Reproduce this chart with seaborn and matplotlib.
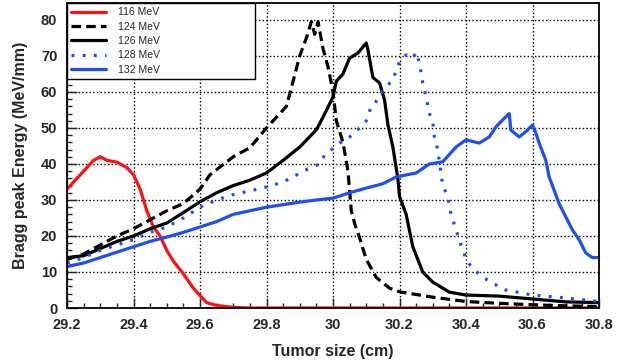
# %%
import numpy as np
import pandas as pd
import seaborn as sns
import matplotlib.pyplot as plt
from matplotlib.ticker import MultipleLocator

# %%
# Bragg peak energy vs tumor size
x_116 = [29.20, 29.22, 29.25, 29.28, 29.30, 29.32, 29.35, 29.38, 29.40, 29.42,
         29.44, 29.46, 29.48, 29.50, 29.52, 29.55, 29.58, 29.60, 29.62, 29.65,
         29.70, 29.75, 30.0, 30.4, 30.8]
y_116 = [33, 35, 38, 41, 42, 41, 40.5, 39, 37, 33,
         27, 22.5, 20, 16, 13, 9.5, 5.5, 3.5, 1.5, 0.7,
         0.2, 0, 0, 0, 0]

x_124 = [29.20, 29.25, 29.30, 29.35, 29.40, 29.45, 29.50, 29.55, 29.58, 29.60,
         29.63, 29.70, 29.75, 29.80, 29.83, 29.86, 29.88, 29.90, 29.92, 29.935,
         29.945, 29.955, 29.97, 29.985, 30.0, 30.01, 30.03, 30.045, 30.055, 30.065,
         30.08, 30.10, 30.13, 30.17, 30.20, 30.30, 30.40, 30.50, 30.60, 30.70, 30.80]
y_124 = [13.5, 15, 17.5, 20, 22, 24.5, 27, 29, 31.4, 33,
         37, 42, 44.5, 50, 53, 56, 63, 70, 75, 79.5,
         76, 79.5, 72, 67, 60, 52, 46, 38, 27, 23.5,
         19.5, 13.5, 8.5, 5.5, 4.5, 3, 1.8, 1.3, 0.9, 0.6, 0.4]

x_126 = [29.20, 29.25, 29.30, 29.35, 29.40, 29.45, 29.50, 29.55, 29.60, 29.65,
         29.70, 29.75, 29.80, 29.85, 29.90, 29.95, 29.97, 30.00, 30.01, 30.03,
         30.05, 30.075, 30.10, 30.105, 30.12, 30.14, 30.155, 30.165, 30.18, 30.195,
         30.20, 30.22, 30.24, 30.27, 30.30, 30.35, 30.40, 30.50, 30.60, 30.70, 30.80]
y_126 = [14, 14.5, 16.5, 18.5, 20, 22, 23.6, 26.5, 29.5, 32,
         34, 35.5, 37.5, 41, 44.7, 49.5, 53, 58.6, 63, 65,
         69.4, 70.8, 73.6, 71.7, 64, 62.5, 57.8, 51, 44.7, 36,
         31, 26, 17, 10, 7.2, 4.4, 3.6, 3.3, 2.5, 1.7, 1.5]

x_128 = [29.20, 29.25, 29.30, 29.35, 29.40, 29.45, 29.50, 29.55, 29.60, 29.65,
         29.70, 29.75, 29.80, 29.85, 29.88, 29.91, 29.96, 29.975, 30.02, 30.05,
         30.08, 30.10, 30.115, 30.13, 30.145, 30.16, 30.18, 30.19, 30.20, 30.22,
         30.24, 30.25, 30.26, 30.27, 30.28, 30.29, 30.30, 30.305, 30.315, 30.33,
         30.345, 30.355, 30.37, 30.39, 30.405, 30.42, 30.45, 30.48, 30.52, 30.60,
         30.70, 30.80]
y_128 = [12.5, 14, 16, 17.5, 19, 21, 22.5, 25, 28, 30,
         31.5, 32.5, 33.6, 35, 36.4, 38, 40, 42.5, 45.8, 47.5,
         50, 52, 56, 57.4, 59.7, 61.5, 63.3, 66, 68.3, 70.3,
         69.4, 71, 68, 62.5, 58.6, 54, 51.7, 47.5, 44, 34,
         31, 26, 21.7, 16, 12.8, 11, 8.6, 6.9, 5, 3.6,
         2.8, 1.8]

x_132 = [29.20, 29.25, 29.30, 29.35, 29.40, 29.45, 29.50, 29.55, 29.60, 29.65,
         29.70, 29.75, 29.80, 29.85, 29.90, 29.95, 30.00, 30.05, 30.10, 30.15,
         30.19, 30.25, 30.29, 30.33, 30.37, 30.40, 30.44, 30.47, 30.49, 30.51,
         30.53, 30.535, 30.56, 30.58, 30.60, 30.61, 30.62, 30.64, 30.65, 30.68,
         30.70, 30.72, 30.74, 30.76, 30.78, 30.80]
y_132 = [11.5, 12.5, 14, 15.5, 17, 18.5, 19.7, 21, 22.5, 24,
         26, 27, 28, 28.7, 29.4, 30, 30.5, 32, 33.3, 34.5,
         36.4, 37.5, 40, 40.6, 44.7, 46.7, 45.8, 47.5, 50.3, 52.2,
         54, 49.4, 47.5, 49, 50.8, 48.6, 45.8, 41, 36.4, 29,
         25.3, 21.7, 19, 15.3, 14, 14]

x_ticks = [29.2, 29.4, 29.6, 29.8, 30.0, 30.2, 30.4, 30.6, 30.8]
x_ticklabels = ["29.2", "29.4", "29.6", "29.8", "30", "30.2", "30.4", "30.6", "30.8"]

# %%
sns.set_style("ticks")
plt.rcParams["font.family"] = ["Liberation Sans", "DejaVu Sans"]

fig = plt.figure(figsize=(6.17, 3.64), dpi=100)
ax = fig.add_axes([67 / 617, 56 / 364, 532 / 617, 305 / 364])

red = "#ff1010"
blue = "#1f4ff0"

series = [
    (x_116, y_116, "116 MeV", red, "-"),
    (x_124, y_124, "124 MeV", "black", (0, (3, 1.6))),
    (x_126, y_126, "126 MeV", "black", "-"),
    (x_128, y_128, "128 MeV", blue, (0, (0.9, 2.6))),
    (x_132, y_132, "132 MeV", blue, "-"),
]
for xs, ys, lab, col, ls in series:
    sns.lineplot(
        x=xs,
        y=ys,
        color=col,
        linestyle=ls,
        linewidth=2.3,
        label=lab,
        estimator=None,
        sort=False,
        ax=ax,
    )

ax.set_xlim(29.2, 30.8)
ax.set_ylim(0, 84.7)
ax.set_xticks(x_ticks)
ax.set_xticklabels(x_ticklabels)
ax.xaxis.set_minor_locator(MultipleLocator(0.05))
ax.yaxis.set_major_locator(MultipleLocator(10))
ax.yaxis.set_minor_locator(MultipleLocator(2))
ax.tick_params(axis="both", which="major", direction="in", length=7, width=1,
               labelsize=10.5, pad=7, top=False, right=False)
ax.tick_params(axis="both", which="minor", direction="in", length=3.5, width=1,
               top=False, right=False)
for t in ax.get_xticklabels() + ax.get_yticklabels():
    t.set_fontweight("bold")
ax.grid(which="major", linestyle=":", color="black", linewidth=1)

for sp in ax.spines.values():
    sp.set_linewidth(1.3)
    sp.set_color("black")

ax.set_xlabel("Tumor size (cm)", fontsize=11.5, fontweight="bold", labelpad=9)
ax.set_ylabel("Bragg peak Energy (MeV/mm)", fontsize=11.5, fontweight="bold", labelpad=9)

leg = ax.legend(
    loc="upper left",
    bbox_to_anchor=(0, 1, 188 / 532, 0),
    mode="expand",
    fontsize=7.5,
    frameon=True,
    fancybox=False,
    edgecolor="black",
    framealpha=1,
    borderaxespad=0,
    handlelength=3.3,
    handletextpad=1.2,
    labelspacing=0.42,
    borderpad=0.4,
)
leg.get_frame().set_linewidth(1.0)

plt.savefig("out.png", dpi=100)
